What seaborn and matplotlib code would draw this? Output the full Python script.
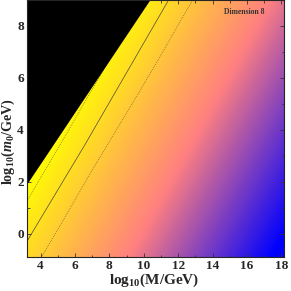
import numpy as np
import seaborn as sns
import matplotlib.pyplot as plt
from matplotlib.colors import LinearSegmentedColormap, Normalize

# axis ranges
x_range = [3.2, 18.15]
y_range = [-0.9, 9.0]
x_ticks = [4, 6, 8, 10, 12, 14, 16, 18]
y_ticks = [0, 2, 4, 6, 8]

# curves (log10 M, log10 m0)
solid_x = [3.2, 6.57, 11.4]
solid_y = [-0.3, 3.42, 8.95]
dot_lo_x = [4.06, 6.97, 9.79, 12.8]
dot_lo_y = [-0.9, 2.41, 5.51, 8.95]
dot_hi_x = [3.2, 6.18, 8.0]
dot_hi_y = [1.24, 4.62, 6.7]

# edge of the excluded (black) region
edge_x = [3.2, 10.34]
edge_y = [1.87, 8.95]

# colour field: constant along lines of this slope, yellow -> pink -> blue
iso_slope = 1.2
u_yellow = 1.5
u_blue = 18.2
colours = ["#ffff00", "#ff8080", "#0000ff"]

sns.set_style("ticks")
plt.rcParams['font.family'] = ['Liberation Serif', 'DejaVu Serif']
plt.rcParams['font.weight'] = 'bold'
plt.rcParams['mathtext.fontset'] = 'custom'
plt.rcParams['mathtext.rm'] = 'Liberation Serif:bold'
plt.rcParams['mathtext.bf'] = 'Liberation Serif:bold'
plt.rcParams['mathtext.it'] = 'Liberation Serif:bold:italic'

fig = plt.figure(figsize=(2.91, 2.91), dpi=100)
ax = fig.add_axes([0.092, 0.116, 0.884, 0.884])

gx = np.linspace(x_range[0], x_range[1], 400)
gy = np.linspace(y_range[0], y_range[1], 400)
GX, GY = np.meshgrid(gx, gy)
U = GX - GY / iso_slope
cmap = LinearSegmentedColormap.from_list("ypb", colours)
ax.imshow(U, extent=[x_range[0], x_range[1], y_range[0], y_range[1]], origin='lower',
          aspect='auto', cmap=cmap, norm=Normalize(u_yellow, u_blue), interpolation='bilinear')

sns.lineplot(x=solid_x, y=solid_y, ax=ax, color='#4a4a30', lw=0.5, sort=False)
sns.lineplot(x=dot_lo_x, y=dot_lo_y, ax=ax, color='#4a4a30', lw=0.5, ls=(0, (1, 1.8)), sort=False)
sns.lineplot(x=dot_hi_x, y=dot_hi_y, ax=ax, color='#4a4a30', lw=0.5, ls=(0, (1, 1.8)), sort=False)

# black region on top, extend edge past the frame
ex = np.array(edge_x)
ey = np.array(edge_y)
k = (ey[1] - ey[0]) / (ex[1] - ex[0])
fx = [x_range[0] - 1, x_range[1] + 1]
fy = [ey[0] + k * (fx[0] - ex[0]), ey[0] + k * (fx[1] - ex[0])]
ax.fill_between(fx, fy, y_range[1] + 5, color='black', lw=0, zorder=3)

ax.set_xlim(x_range)
ax.set_ylim(y_range)
ax.set_xticks(x_ticks)
ax.set_yticks(y_ticks)
ax.set_xticks(np.arange(4, 19, 1), minor=True)
ax.set_yticks(np.arange(0, 10, 1), minor=True)
ax.tick_params(direction='in', top=True, right=True, which='both', labelsize=9.5,
               length=3, width=0.6, pad=2, color='#333333')
ax.tick_params(which='minor', length=1.8)
for lab in ax.get_xticklabels() + ax.get_yticklabels():
    lab.set_fontweight('bold')
for s in ax.spines.values():
    s.set_linewidth(0.8)
    s.set_zorder(5)

ax.set_xlabel(r"$\mathrm{log}_{10}(\mathrm{M/GeV})$", fontsize=11, labelpad=0)
ax.set_ylabel(r"$\mathrm{log}_{10}(m_0/\mathrm{GeV})$", fontsize=10.2, labelpad=0)
ax.xaxis.set_label_coords(0.497, -0.056)
ax.yaxis.set_label_coords(-0.038, 0.45)
ax.text(0.925, 0.955, "Dimension 8", transform=ax.transAxes, ha='right', va='center',
        fontsize=5.5, fontweight='bold', color='#333333', zorder=6)

fig.savefig("out.png", dpi=100)
